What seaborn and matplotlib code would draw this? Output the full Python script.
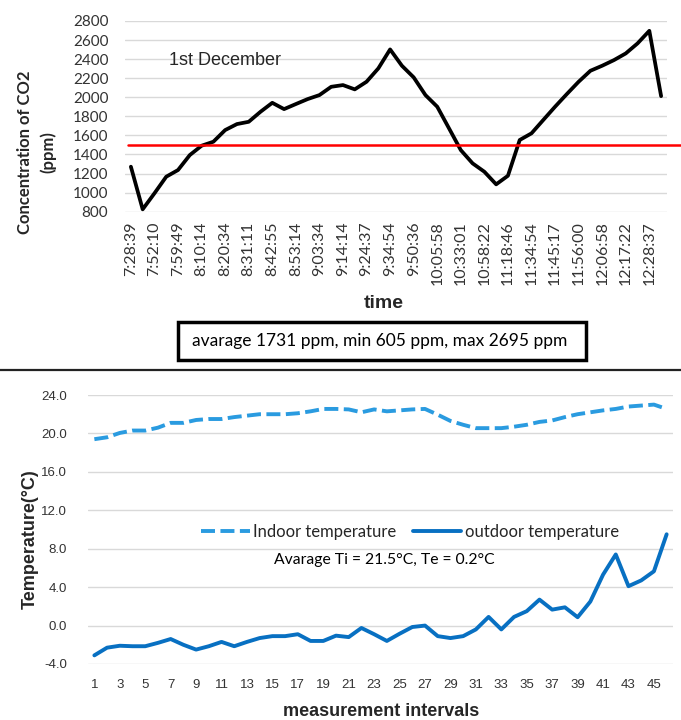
import matplotlib
matplotlib.use("Agg")
import matplotlib.pyplot as plt
import seaborn as sns
import numpy as np
import pandas as pd
from matplotlib.lines import Line2D
from matplotlib.patches import Rectangle

# ---------------- data ----------------
co2_ppm = [1272, 825, 993, 1167, 1237, 1394, 1492, 1534, 1656, 1719,
           1743, 1848, 1942, 1876, 1929, 1981, 2023, 2110, 2128, 2083,
           2163, 2303, 2502, 2331, 2209, 2023, 1901, 1674, 1446, 1307,
           1219, 1087, 1177, 1552, 1622, 1762, 1901, 2034, 2163, 2278,
           2331, 2390, 2460, 2565, 2697, 2012]
time_labels = ["7:28:39", "7:52:10", "7:59:49", "8:10:14", "8:20:34", "8:31:11",
               "8:42:55", "8:53:14", "9:03:34", "9:14:14", "9:24:37", "9:34:54",
               "9:50:36", "10:05:58", "10:33:01", "10:58:22", "11:18:46", "11:34:54",
               "11:45:17", "11:56:00", "12:06:58", "12:17:22", "12:28:37"]
co2_limit = 1500
co2_yticks = [800, 1000, 1200, 1400, 1600, 1800, 2000, 2200, 2400, 2600, 2800]

indoor_temp = [19.4, 19.6, 20.05, 20.3, 20.3, 20.6, 21.1, 21.1, 21.4, 21.5,
               21.5, 21.7, 21.85, 22.0, 22.0, 22.0, 22.1, 22.3, 22.55, 22.55,
               22.5, 22.2, 22.5, 22.3, 22.4, 22.5, 22.55, 21.95, 21.3, 20.9,
               20.55, 20.55, 20.55, 20.7, 20.9, 21.2, 21.35, 21.7, 22.0, 22.2,
               22.4, 22.55, 22.8, 22.9, 23.0, 22.55]
outdoor_temp = [-3.1, -2.3, -2.1, -2.15, -2.15, -1.8, -1.4, -2.0, -2.5, -2.15,
                -1.7, -2.15, -1.7, -1.3, -1.1, -1.1, -0.9, -1.6, -1.6, -1.05,
                -1.2, -0.25, -0.9, -1.6, -0.85, -0.15, 0.0, -1.1, -1.3, -1.1,
                -0.4, 0.9, -0.4, 0.9, 1.5, 2.7, 1.66, 1.9, 0.87, 2.5,
                5.3, 7.4, 4.1, 4.7, 5.65, 9.5]
intervals = list(range(1, 47))
interval_ticks = list(range(1, 46, 2))
temp_yticks = [-4.0, 0.0, 4.0, 8.0, 12.0, 16.0, 20.0, 24.0]

# ---------------- style ----------------
sns.set_theme(style="white")
plt.rcParams["font.family"] = ["Lato", "DejaVu Sans"]
plt.rcParams["axes.unicode_minus"] = False

W, H = 681, 720
fig = plt.figure(figsize=(W / 100, H / 100), dpi=100)


def fx(px):
    return px / W


def fy(py):
    return 1 - py / H


GRID = "#d9d9d9"
ARIAL = ["Liberation Sans", "DejaVu Sans"]
NARROW = ["Liberation Sans Narrow", "Liberation Sans", "DejaVu Sans"]

# ---------------- top chart ----------------
axL, axR, axT, axB = 125, 667, 21, 211.7
ax1 = fig.add_axes([fx(axL), fy(axB), fx(axR - axL), (axB - axT) / H])
df1 = pd.DataFrame({"idx": np.arange(len(co2_ppm)), "co2": co2_ppm})
sns.lineplot(data=df1, x="idx", y="co2", ax=ax1, color="black", lw=2.7, zorder=3)
ax1.axhline(co2_limit, xmin=(128 - axL) / (axR - axL), xmax=(681 - axL) / (axR - axL),
            color="#ff0000", lw=1.8, zorder=4, clip_on=False)
ax1.set_xlim(-0.5, len(co2_ppm) - 0.5)
ax1.set_ylim(800, 2800)
ax1.set_yticks(co2_yticks)
ax1.set_yticklabels([str(v) for v in co2_yticks], fontsize=11, color="#333333")
ax1.set_xticks(np.arange(0, len(co2_ppm) - 1, 2))
ax1.set_xticklabels(time_labels, rotation=90, fontsize=11.5, color="#333333")
ax1.tick_params(axis="y", length=0, pad=12)
ax1.tick_params(axis="x", length=0, pad=7)
ax1.grid(axis="y", color=GRID, lw=1)
ax1.grid(axis="x", visible=False)
for s in ax1.spines.values():
    s.set_visible(False)
ax1.set_xlabel("")
ax1.set_ylabel("")
ax1.text(8.0, 2390, "1st December", ha="center", va="center", fontsize=13,
         family=ARIAL)

fig.text(fx(37), fy(152), "Concentration of CO2\n(ppm)", rotation=90, ha="center",
         va="center", fontsize=12, fontweight="bold", linespacing=1.5,
         multialignment="center")
fig.text(fx(384), fy(303), "time", ha="center", va="center", fontsize=14,
         fontweight="bold", family=ARIAL)

# stats box
fig.add_artist(Rectangle((fx(178), fy(360)), fx(586 - 178), (360 - 322) / H,
                         transform=fig.transFigure, fill=False, ec="black", lw=2.5))
fig.text(fx(380), fy(341), "avarage 1731 ppm, min 605 ppm, max 2695 ppm",
         ha="center", va="center", fontsize=12.5, color="black")

# separator
fig.add_artist(Line2D([0, 1], [fy(370), fy(370)], transform=fig.transFigure,
                      color="#222222", lw=1.6))

# ---------------- bottom chart ----------------
bL, bR, bT, bB = 88, 673, 395, 664
ax2 = fig.add_axes([fx(bL), fy(bB), fx(bR - bL), (bB - bT) / H])
df2 = pd.DataFrame({"interval": intervals, "indoor": indoor_temp, "outdoor": outdoor_temp})
sns.lineplot(data=df2, x="interval", y="indoor", ax=ax2, color="#2a9be0", lw=2.8,
             label="Indoor temperature")
ax2.lines[-1].set_dashes((3.6, 1.4))
sns.lineplot(data=df2, x="interval", y="outdoor", ax=ax2, color="#0870c2", lw=2.8,
             label="outdoor temperature")
ax2.set_xlim(0.5, 46.5)
ax2.set_ylim(-4, 24)
ax2.set_yticks(temp_yticks)
ax2.set_yticklabels([f"{v:.1f}" for v in temp_yticks], fontsize=9.5, color="#333333",
                    family=NARROW)
ax2.set_xticks(interval_ticks)
ax2.set_xticklabels([str(v) for v in interval_ticks], fontsize=9.5, color="#333333",
                    family=NARROW)
ax2.tick_params(axis="y", length=0, pad=15)
ax2.tick_params(axis="x", length=0, pad=11)
ax2.grid(axis="y", color=GRID, lw=1)
ax2.grid(axis="x", visible=False)
for s in ax2.spines.values():
    s.set_visible(False)
ax2.set_xlabel("")
ax2.set_ylabel("")

leg = ax2.legend(loc="center", bbox_to_anchor=(fx(410), fy(532)),
                 bbox_transform=fig.transFigure, ncol=2, frameon=False,
                 fontsize=12, handlelength=2.9, handletextpad=0.2,
                 columnspacing=1.0, borderpad=0)
for t in leg.get_texts():
    t.set_color("#262626")

fig.text(fx(384), fy(560), "Avarage Ti = 21.5°C, Te = 0.2°C", ha="center",
         va="center", fontsize=11.3, color="black")

fig.text(fx(30), fy(539), "Temperature(°C)", rotation=90, ha="center", va="center",
         fontsize=13, fontweight="bold", family=ARIAL)
fig.text(fx(381), fy(712), "measurement intervals", ha="center", va="center",
         fontsize=13, fontweight="bold", family=ARIAL)

fig.savefig("out.png", dpi=100)
